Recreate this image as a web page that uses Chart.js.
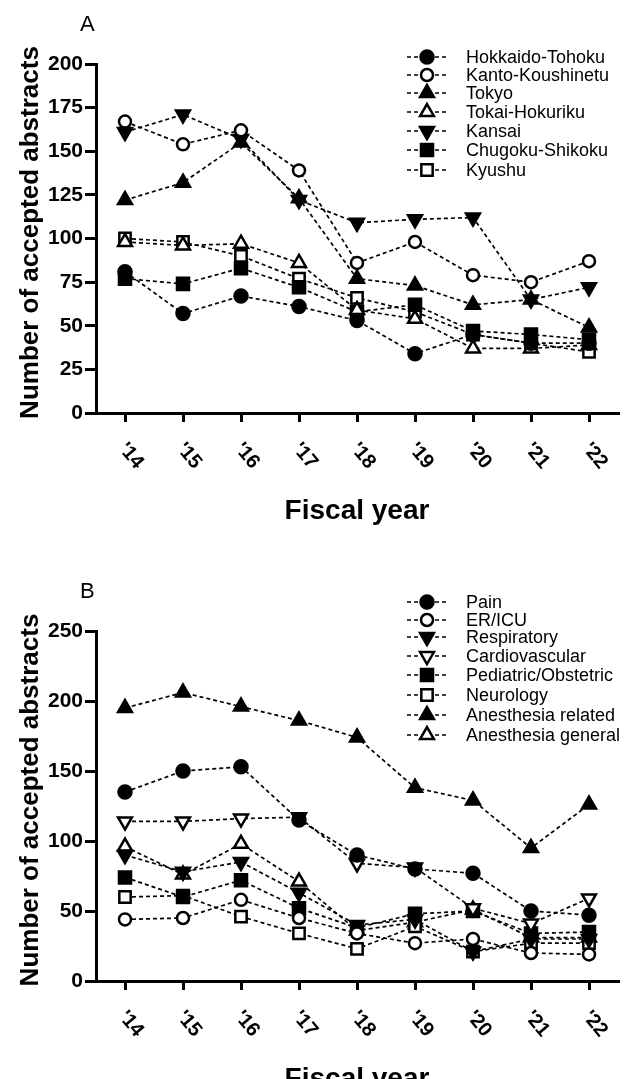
<!DOCTYPE html>
<html>
<head>
<meta charset="utf-8">
<script src="https://cdn.jsdelivr.net/npm/chart.js@4.4.1/dist/chart.umd.min.js"></script>
<style>
  body { margin: 0; background: #fff; }
  canvas { display: block; }
</style>
</head>
<body>
<canvas id="chartA" width="629" height="540"></canvas>
<canvas id="chartB" width="629" height="539"></canvas>
<script>
// x categories
const years = ["'14", "'15", "'16", "'17", "'18", "'19", "'20", "'21", "'22"];

// panel A - regions
const regionNames = ['Hokkaido-Tohoku', 'Kanto-Koushinetu', 'Tokyo', 'Tokai-Hokuriku', 'Kansai', 'Chugoku-Shikoku', 'Kyushu'];
const hokkaido = [81, 57, 67, 61, 53, 34, 45, 40, 40];
const kanto    = [167, 154, 162, 139, 86, 98, 79, 75, 87];
const tokyo    = [122, 132, 155, 123, 77, 73, 62, 65, 49];
const tokai    = [98, 96, 97, 86, 59, 54, 37, 37, 39];
const kansai   = [161, 171, 157, 122, 109, 111, 112, 65, 72];
const chugoku  = [77, 74, 83, 72, 58, 62, 47, 45, 42];
const kyushu   = [100, 98, 90, 77, 66, 58, 45, 40, 35];
const ticksA = [0, 25, 50, 75, 100, 125, 150, 175, 200];

// panel B - fields
const fieldNames = ['Pain', 'ER/ICU', 'Respiratory', 'Cardiovascular', 'Pediatric/Obstetric', 'Neurology', 'Anesthesia related', 'Anesthesia general'];
const pain        = [135, 150, 153, 115, 90, 80, 77, 50, 47];
const erIcu       = [44, 45, 58, 45, 34, 27, 30, 20, 19];
const respiratory = [90, 78, 85, 63, 40, 44, 21, 30, 30];
const cardio      = [114, 114, 116, 117, 84, 81, 52, 41, 59];
const pediatric   = [74, 60, 72, 52, 38, 48, 50, 34, 35];
const neurology   = [60, 61, 46, 34, 23, 39, 21, 27, 27];
const anesRelated = [195, 206, 196, 186, 174, 138, 129, 95, 126];
const anesGeneral = [96, 76, 98, 71, 36, 42, 51, 31, 31];
const ticksB = [0, 50, 100, 150, 200, 250];

// marker shapes
const M = {
  dot:     { pointStyle: 'circle', fill: '#000', r: 6.5, rot: 0 },
  ring:    { pointStyle: 'circle', fill: '#fff', r: 6, rot: 0 },
  up:      { pointStyle: 'triangle', fill: '#000', r: 8, rot: 0 },
  upOpen:  { pointStyle: 'triangle', fill: '#fff', r: 8, rot: 0 },
  down:    { pointStyle: 'triangle', fill: '#000', r: 8, rot: 180 },
  downOpen:{ pointStyle: 'triangle', fill: '#fff', r: 8, rot: 180 },
  sq:      { pointStyle: 'rect', fill: '#000', r: 8.5, rot: 0 },
  sqOpen:  { pointStyle: 'rect', fill: '#fff', r: 8, rot: 0 }
};

const FONT = '"Liberation Sans", Arial, sans-serif';

function makeSet(label, data, m) {
  return {
    label: label,
    data: data,
    borderColor: '#000',
    borderWidth: 1.7,
    borderDash: [4, 3],
    pointStyle: m.pointStyle,
    pointRotation: m.rot,
    pointRadius: m.r,
    pointHoverRadius: m.r,
    pointBackgroundColor: m.fill,
    pointBorderColor: '#000',
    pointBorderWidth: 2.5,
    fill: false,
    tension: 0,
    marker: m
  };
}

function drawMarker(ctx, m, x, y) {
  ctx.save();
  ctx.fillStyle = m.fill;
  ctx.strokeStyle = '#000';
  ctx.lineWidth = 2.5;
  ctx.setLineDash([]);
  Chart.helpers.drawPoint(ctx, { pointStyle: m.pointStyle, radius: m.r, rotation: m.rot, borderWidth: 2.5 }, x, y);
  ctx.restore();
}

// draws panel letter, axis titles, slanted x labels and legend
const decor = {
  id: 'decor',
  afterDraw(chart, args, opts) {
    const ctx = chart.ctx;
    const x = chart.scales.x, y = chart.scales.y;
    ctx.save();
    ctx.fillStyle = '#000';

    // panel letter
    ctx.font = '22px ' + FONT;
    ctx.textAlign = 'left';
    ctx.textBaseline = 'alphabetic';
    ctx.fillText(opts.letter, opts.letterX, opts.letterY);

    // slanted year labels
    ctx.font = 'bold 20px ' + FONT;
    years.forEach((lab, i) => {
      const px = x.getPixelForValue(i);
      ctx.save();
      ctx.translate(px + 6, y.bottom + 43);
      ctx.rotate(50 * Math.PI / 180);
      ctx.textAlign = 'center';
      ctx.textBaseline = 'middle';
      ctx.fillText(lab, 0, 0);
      ctx.restore();
    });

    // x title
    ctx.font = 'bold 28px ' + FONT;
    ctx.textAlign = 'center';
    ctx.textBaseline = 'alphabetic';
    ctx.fillText('Fiscal year', (x.left + x.right) / 2, y.bottom + 106);

    // y title
    ctx.save();
    ctx.translate(31, (y.top + y.bottom) / 2 - 6);
    ctx.rotate(-Math.PI / 2);
    ctx.textBaseline = 'middle';
    ctx.font = 'bold 26px ' + FONT;
    ctx.fillText('Number of accepted abstracts', 0, 0);
    ctx.restore();

    // legend
    ctx.font = '18px ' + FONT;
    ctx.textAlign = 'left';
    ctx.textBaseline = 'middle';
    chart.data.datasets.forEach((ds, i) => {
      const ly = opts.legendY[i];
      ctx.save();
      ctx.strokeStyle = '#000';
      ctx.lineWidth = 1.7;
      ctx.setLineDash([4, 3]);
      ctx.beginPath();
      ctx.moveTo(407, ly);
      ctx.lineTo(448, ly);
      ctx.stroke();
      ctx.restore();
      drawMarker(ctx, ds.marker, 427, ly);
      ctx.fillStyle = '#000';
      ctx.fillText(ds.label, 466, ly + 1);
    });
    ctx.restore();
  }
};

function axisOptions(tickVals, maxV, xHeight) {
  return {
    x: {
      type: 'category',
      offset: true,
      border: { display: true, color: '#000', width: 3 },
      grid: { display: true, drawOnChartArea: false, drawTicks: true, tickLength: 9, color: '#000', lineWidth: 3, offset: false },
      ticks: { display: false },
      afterFit(s) { s.height = xHeight; }
    },
    y: {
      min: 0,
      max: maxV,
      border: { display: true, color: '#000', width: 3 },
      grid: { display: true, drawOnChartArea: false, drawTicks: true, tickLength: 11, color: '#000', lineWidth: 3 },
      afterBuildTicks(s) { s.ticks = tickVals.map(v => ({ value: v })); },
      ticks: { color: '#000', font: { family: FONT, size: 21, weight: 'bold' }, padding: 2 },
      afterFit(s) { s.width = 96; }
    }
  };
}

function build(id, sets, tickVals, maxV, padTop, xHeight, decorOpts) {
  return new Chart(document.getElementById(id), {
    type: 'line',
    data: { labels: years, datasets: sets },
    options: {
      responsive: false,
      animation: false,
      events: [],
      layout: { padding: { top: padTop, right: 6, left: 0, bottom: 0 } },
      plugins: { legend: { display: false }, tooltip: { enabled: false }, decor: decorOpts },
      scales: axisOptions(tickVals, maxV, xHeight)
    },
    plugins: [decor]
  });
}

build('chartA', [
  makeSet(regionNames[0], hokkaido, M.dot),
  makeSet(regionNames[1], kanto, M.ring),
  makeSet(regionNames[2], tokyo, M.up),
  makeSet(regionNames[3], tokai, M.upOpen),
  makeSet(regionNames[4], kansai, M.down),
  makeSet(regionNames[5], chugoku, M.sq),
  makeSet(regionNames[6], kyushu, M.sqOpen)
], ticksA, 200, 64, 127, {
  letter: 'A', letterX: 80, letterY: 31,
  legendY: [57, 75, 93, 112, 131, 150, 170]
});

build('chartB', [
  makeSet(fieldNames[0], pain, M.dot),
  makeSet(fieldNames[1], erIcu, M.ring),
  makeSet(fieldNames[2], respiratory, M.down),
  makeSet(fieldNames[3], cardio, M.downOpen),
  makeSet(fieldNames[4], pediatric, M.sq),
  makeSet(fieldNames[5], neurology, M.sqOpen),
  makeSet(fieldNames[6], anesRelated, M.up),
  makeSet(fieldNames[7], anesGeneral, M.upOpen)
], ticksB, 250, 91, 98, {
  letter: 'B', letterX: 80, letterY: 58,
  legendY: [62, 80, 97, 116, 135, 155, 175, 195]
});
</script>
</body>
</html>
